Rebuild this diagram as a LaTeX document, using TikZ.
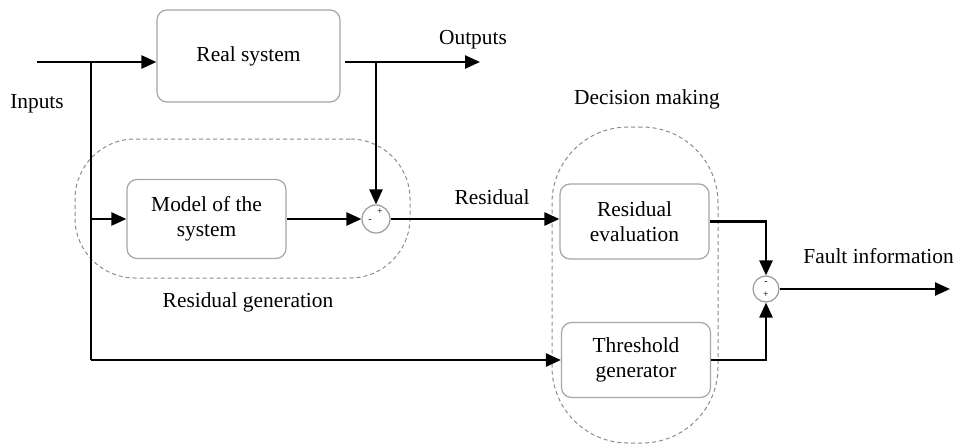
\documentclass[tikz,border=0pt]{standalone}
\usepackage{fontspec}
\setmainfont{Liberation Serif}
\usetikzlibrary{arrows.meta,calc}
\begin{document}
\begin{tikzpicture}[x=0.5pt,y=-0.5pt,
  font=\fontsize{10.7pt}{12.5pt}\selectfont,
  blk/.style={draw=black!35,line width=0.6pt,rounded corners=5pt,align=center,inner sep=0pt},
  grp/.style={draw=black!45,dashed,line width=0.5pt,dash pattern=on 2pt off 1.5pt,inner sep=0pt},
  sumc/.style={circle,draw=black!40,line width=0.6pt,inner sep=0pt},
  ln/.style={line width=1.25pt},
  arr/.style={ln,-{Triangle[length=7.5pt,width=6.5pt]}},
  sg/.style={font=\fontsize{5pt}{5pt}\selectfont,inner sep=0pt}]
\useasboundingbox (0,0) rectangle (957,445);
% groups
\node[grp,rounded corners=30pt,minimum width=167.5pt,minimum height=69.5pt] (gen) at (242.5,208.5) {};
\node[grp,rounded corners=38pt,minimum width=83pt,minimum height=158pt] (dec) at (635,285) {};
% blocks
\node[blk,minimum width=91.5pt,minimum height=46pt] (real) at (248.5,56) {Real system};
\node[blk,minimum width=79.5pt,minimum height=39.5pt] (model) at (206.5,219) {Model of the\\system};
\node[blk,minimum width=74.5pt,minimum height=37.5pt] (reseval) at (634.5,221.5) {Residual\\evaluation};
\node[blk,minimum width=74.5pt,minimum height=37.5pt] (thresh) at (636,360) {Threshold\\generator};
\node[sumc,minimum size=14pt] (sum1) at (376,219) {};
\node[sumc,minimum size=13pt] (sum2) at (766,289) {};
\node[sg] (s1p) at ($(sum1)+(4,-7)$) {+};
\node[sg] (s1m) at ($(sum1)+(-6,2)$) {-};
\node[sg] (s2m) at ($(sum2)+(0,-6)$) {-};
\node[sg] (s2p) at ($(sum2)+(0,6)$) {+};
% labels
\node (inputs) at (37,104) {Inputs};
\node (outputs) at (473,40) {Outputs};
\node (residual) at (492,197) {Residual};
\node (rgen) at (248,302) {Residual generation};
\node (dmake) at (647,99) {Decision making};
\node[anchor=west,inner sep=0pt] (fault) at (803,256) {Fault information};
% coordinates
\coordinate (in) at (37,62);
\coordinate (split) at (91,62);
\coordinate (out) at (480,62);
\coordinate (fout) at (950,289);
% connectors
\draw[arr] (in) -- (in -| real.west);
\draw[arr] ($(in -| real.east)+(4,0)$) -- (out);
\draw[arr] (sum1.north |- in) -- (sum1.north);
\draw[ln] (split) -- (split |- thresh.west);
\draw[arr] (split |- model.west) -- (model.west);
\draw[arr] (split |- thresh.west) -- (thresh.west);
\draw[arr] (model.east) -- (sum1.west);
\draw[arr] (sum1.east) -- (sum1.east -| reseval.west);
\draw[arr] (reseval.east) -| (sum2.north);
\draw[arr] (thresh.east) -| (sum2.south);
\draw[arr] (sum2.east) -- (fout);
\end{tikzpicture}
\end{document}
